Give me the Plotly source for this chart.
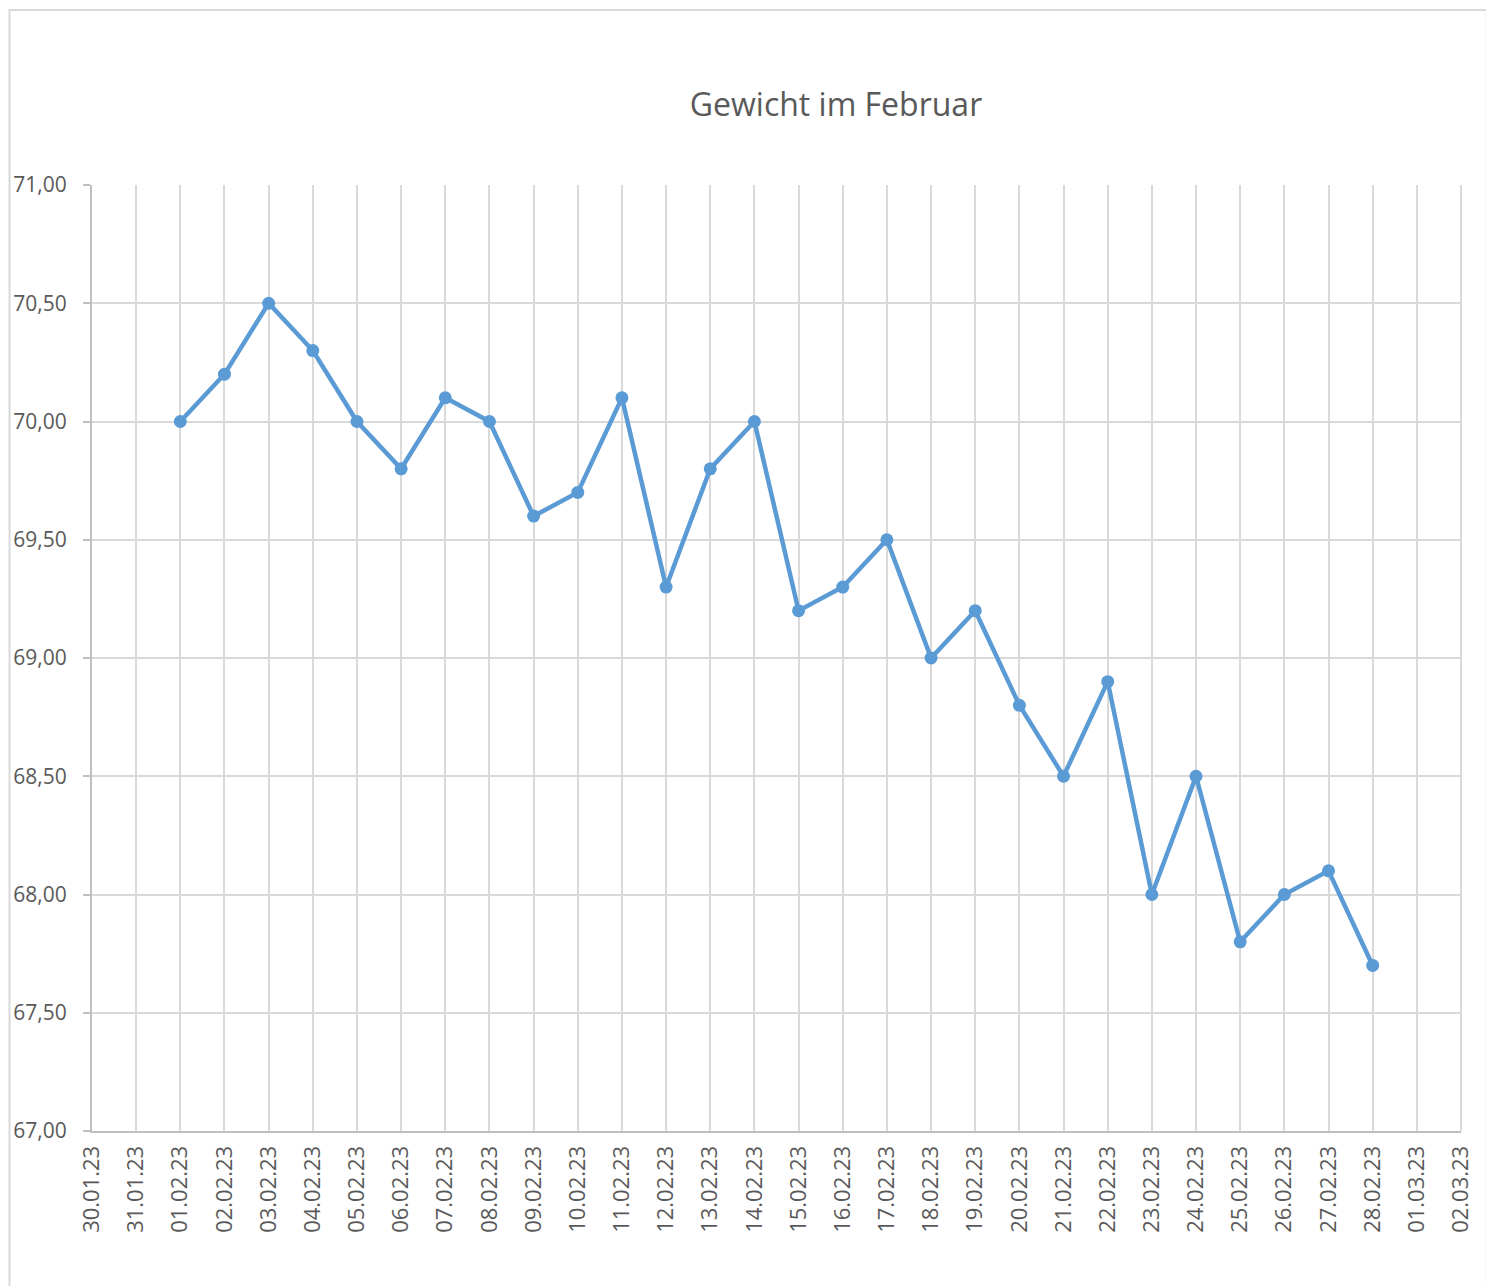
import plotly.graph_objects as go

dates = ["2023-02-01", "2023-02-02", "2023-02-03", "2023-02-04", "2023-02-05", "2023-02-06",
         "2023-02-07", "2023-02-08", "2023-02-09", "2023-02-10", "2023-02-11", "2023-02-12",
         "2023-02-13", "2023-02-14", "2023-02-15", "2023-02-16", "2023-02-17", "2023-02-18",
         "2023-02-19", "2023-02-20", "2023-02-21", "2023-02-22", "2023-02-23", "2023-02-24",
         "2023-02-25", "2023-02-26", "2023-02-27", "2023-02-28"]
weights = [70.0, 70.2, 70.5, 70.3, 70.0, 69.8, 70.1, 70.0, 69.6, 69.7, 70.1, 69.3,
           69.8, 70.0, 69.2, 69.3, 69.5, 69.0, 69.2, 68.8, 68.5, 68.9, 68.0, 68.5,
           67.8, 68.0, 68.1, 67.7]
x_range = ["2023-01-30", "2023-03-02"]
y_range = [67, 71]
title_text = "Gewicht im Februar"

W, H = 1486, 1286
L, R, T, B = 92, 16, 185, 155
pw, ph = W - L - R, H - T - B

fig = go.Figure()
fig.add_trace(go.Scatter(
    x=dates, y=weights, mode="lines+markers",
    line=dict(color="#5B9BD5", width=4.5),
    marker=dict(color="#5B9BD5", size=13, symbol="circle"),
    showlegend=False,
))

grid = "#d9d9d9"
axis_c = "#bfbfbf"
txt = "#595959"

fig.update_layout(
    width=W, height=H,
    margin=dict(l=L, r=R, t=T, b=B),
    paper_bgcolor="white", plot_bgcolor="white",
    separators=",.",
    font=dict(family="Open Sans", color=txt),
    title=dict(text=title_text, x=836 / W, xanchor="center",
               y=1 - 105 / H, yanchor="middle",
               font=dict(size=32, color=txt, family="Open Sans")),
    xaxis=dict(
        type="date", range=x_range, tick0=x_range[0], dtick=86400000,
        tickformat="%d.%m.%y", tickangle=-90,
        showgrid=True, gridcolor=grid, gridwidth=2,
        showline=True, linecolor=axis_c, linewidth=2,
        ticks="", ticklabelstandoff=4,
        tickfont=dict(size=22, color=txt),
        zeroline=False,
    ),
    yaxis=dict(
        range=y_range, dtick=0.5, tick0=67, tickformat=".2f",
        showgrid=True, gridcolor=grid, gridwidth=2,
        showline=True, linecolor=axis_c, linewidth=2,
        ticks="outside", ticklen=7, tickcolor=axis_c, tickwidth=2,
        ticklabelstandoff=12,
        tickfont=dict(size=21, color=txt),
        zeroline=False,
    ),
    shapes=[
        dict(type="rect", xref="paper", yref="paper",
             x0=(9 - L) / pw, x1=(W + 10 - L) / pw,
             y0=(H - B - (H + 10)) / ph, y1=(H - B - 10) / ph,
             line=dict(color="#d9d9d9", width=2), fillcolor="rgba(0,0,0,0)", layer="below"),
        dict(type="line", xref="paper", yref="paper", x0=1, x1=1, y0=0, y1=1,
             line=dict(color=grid, width=2), layer="below"),
    ],
)

fig.write_html(
    "out.html",
    config={"displayModeBar": False},
    post_script="document.body.style.margin='0';document.body.style.overflow='hidden';",
)
